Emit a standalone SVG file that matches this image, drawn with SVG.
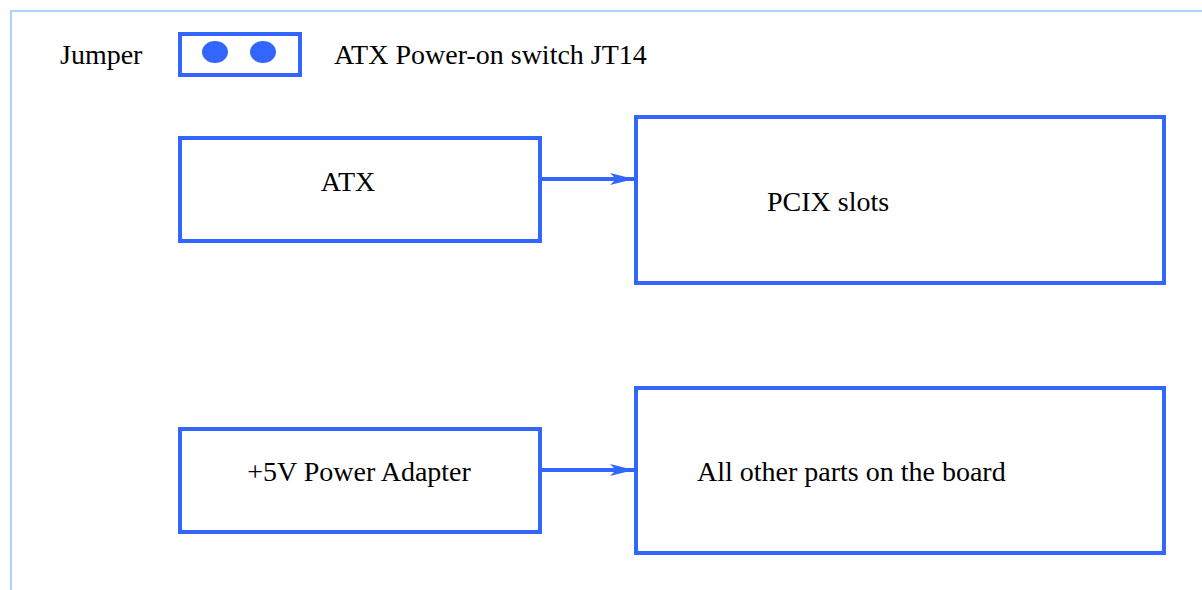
<svg xmlns="http://www.w3.org/2000/svg" width="1202" height="590" viewBox="0 0 1202 590">
<style>
.frame{fill:none;stroke:#aad4ff;stroke-width:2}
.box{fill:#fff;stroke:#3366ff;stroke-width:4}
.lbl{font-family:"Liberation Serif","Times New Roman",serif;font-size:28px;fill:#000}
.conn{stroke:#3366ff;stroke-width:4;fill:none}
</style>
<defs>
<marker id="ah" viewBox="0 0 24 12" refX="24" refY="6" markerWidth="24" markerHeight="12" markerUnits="userSpaceOnUse" orient="auto">
<path d="M0,0 L24,6 L0,12 L6,6 Z" fill="#3366ff"/>
</marker>
</defs>
<rect width="1202" height="590" fill="#fff"/>
<path class="frame" d="M11,590 L11,11 L1202,11"/>
<g id="legend">
<text class="lbl" x="60" y="64">Jumper</text>
<rect class="box" x="180" y="34" width="120" height="41"/>
<ellipse cx="215" cy="52" rx="13" ry="11" fill="#3366ff"/>
<ellipse cx="263" cy="52" rx="13" ry="11" fill="#3366ff"/>
<text class="lbl" x="334" y="64">ATX Power-on switch JT14</text>
</g>
<g id="atx">
<rect class="box" x="180" y="138" width="360" height="103"/>
<text class="lbl" x="348" y="191" text-anchor="middle">ATX</text>
</g>
<g id="pcix">
<rect class="box" x="636" y="117" width="528" height="166"/>
<text class="lbl" x="767" y="211">PCIX slots</text>
</g>
<g id="adapter">
<rect class="box" x="180" y="429" width="360" height="103"/>
<text class="lbl" x="359" y="481" text-anchor="middle">+5V Power Adapter</text>
</g>
<g id="others">
<rect class="box" x="636" y="388" width="528" height="165"/>
<text class="lbl" x="697" y="481">All other parts on the board</text>
</g>
<g id="connectors">
<line class="conn" x1="540" y1="179" x2="634" y2="179" marker-end="url(#ah)"/>
<line class="conn" x1="540" y1="470" x2="634" y2="470" marker-end="url(#ah)"/>
</g>
</svg>
